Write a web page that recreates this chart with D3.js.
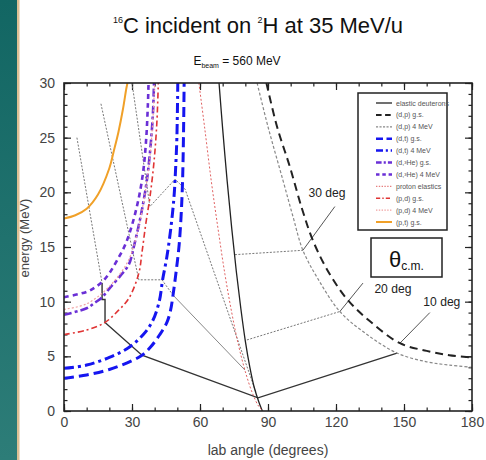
<!DOCTYPE html>
<html><head><meta charset="utf-8">
<script src="https://cdn.jsdelivr.net/npm/d3@7"></script>
<style>body{margin:0;background:#fff}</style></head>
<body><svg id="c" width="486" height="460"></svg>
<script>
// ---------- data ----------
const xTicks = [0,30,60,90,120,150,180];
const yTicks = [0,5,10,15,20,25,30];
const xMinor = d3.range(0,181,10);
const yMinor = d3.range(0,31,1);

const elasticD = [[68.4,30],[70,25.8],[72,21.0],[74,16.7],[76,12.8],[78,9.4],[80,6.4],[82,4.0],[84,2.1],[86,0.8],[87.5,0]];
const dpGs = [[89.3,30],[94,26],[99.7,22.3],[105,18.5],[110,15.5],[117,12.6],[125,10.2],[135,8.2],[148.2,6.2],[160,5.5],[170,5.1],[180,4.9]];
const dp4 = [[85.2,30],[90,26],[96.6,21.1],[101,17.8],[105.4,14.7],[112,12.1],[121.7,9.1],[133,7.1],[146.9,5.3],[160,4.5],[170,4.2],[180,4.0]];
const dtGs = [[0,3.0],[10,3.3],[20,3.8],[30,4.6],[34.4,5.1],[38,5.8],[42.3,7.0],[45.4,8.1],[47,9.2],[48.1,10.6],[49.5,12.8],[50.8,15.2],[51.7,18],[52.3,21],[52.7,25],[53,30]];
const dt4 = [[0,3.9],[10,4.2],[20,4.9],[28.6,5.8],[35,7.0],[39,8.2],[42,10.0],[43.5,12.0],[45.3,14.0],[47,16.5],[48.5,19.5],[49.2,22],[49.8,25],[50.2,30]];
const dHeGs = [[0,8.8],[10,9.4],[13.6,9.9],[16.8,10.4],[20,11.2],[25,12.4],[28.6,13.4],[31,15.2],[34,18],[36.5,21],[38.3,24.5],[39.3,27.5],[39.7,30]];
const dHe4 = [[0,10.4],[10,10.9],[13.6,11.3],[16.8,11.8],[20,12.6],[24,14],[27,15.2],[30,17],[33,19.5],[35,22],[36.3,25],[37,28],[37.3,30]];
const pElastic = [[59.5,30],[62,26],[65,21],[68,16.6],[71,12.5],[74,9],[77,6],[80,3.6],[83,1.7],[86,0.4],[88,0]];
const pdGs = [[0,7.0],[10,7.4],[18.1,8.1],[24,9.2],[28.6,10.3],[33,12.6],[34.4,14.5],[36,17],[38,19.7],[39.8,23],[41,26.5],[41.6,30]];
const pd4 = [[0,9.3],[10,9.8],[20,11.4],[28,13.6],[32,16],[35,19],[37.5,22.5],[39,26],[40,30]];
const pt = [[0,17.6],[5,17.9],[10,18.5],[15,19.8],[20,22.2],[22,23.8],[24,25.5],[26,27.6],[27.5,29.5],[28,30]];

// constant theta_cm connecting lines
const cm10Left = [[16.8,11.7],[16.8,10.2],[18.1,10.2],[18.1,8.1],[34.4,5.1],[85.6,1.2],[146.9,5.3]];
const cm10Upper = [[5.7,25.0],[16.8,11.7]];
const cm20Upper = [[16.3,28.1],[33.0,12.0],[43.2,12.0],[48.1,10.6]];
const cm20Lower = [[48.1,10.6],[79.8,3.75]];
const cm20Right = [[80.7,6.5],[121.7,9.1]];
const cm30Left = [[30.0,30.0],[37.9,18.7],[49.0,21.2],[53.4,20.3],[84.7,1.7]];
const cm30Right = [[75.4,14.3],[105.4,14.7]];
const pointers = [ [[105.4,14.7],[119.5,18.7]], [[121.7,9.1],[131.9,11.7]], [[148.2,6.2],[161.4,9.0]] ];
const angleLabels = ["30 deg","20 deg","10 deg"];
const angleLabelPos = [[116,20.0],[145.1,11.25],[166.7,10.1]];

const legendLabels = ["elastic deuterons","(d,p) g.s.","(d,p) 4 MeV","(d,t) g.s.","(d,t) 4 MeV","(d,\u00B3He) g.s.","(d,\u00B3He) 4 MeV","proton elastics","(p,d) g.s.","(p,d) 4 MeV","(p,t) g.s."];

// ---------- styles ----------
const styles = [
  {c:"#222", w:1.3, d:null},
  {c:"#222", w:2, d:"8,5"},
  {c:"#888", w:1.2, d:"3,2"},
  {c:"#1515f0", w:3, d:"10,5"},
  {c:"#1515f0", w:3, d:"10,4,3,4"},
  {c:"#6a2fd6", w:2.6, d:"8,3,3,3"},
  {c:"#6a2fd6", w:2.6, d:"5,4"},
  {c:"#e06060", w:1, d:"2,2"},
  {c:"#e03434", w:1.6, d:"6,3,2,3"},
  {c:"#f0a0a0", w:1.2, d:"2,2"},
  {c:"#f0a028", w:2, d:null}
];
const series = [elasticD,dpGs,dp4,dtGs,dt4,dHeGs,dHe4,pElastic,pdGs,pd4,pt];

const FONT = "'Liberation Sans',Arial,sans-serif";

const svg = d3.select("#c");
// left decorative strip
const defs = svg.append("defs");
const g1 = defs.append("linearGradient").attr("id","tg").attr("x1",0).attr("y1",0).attr("x2",0).attr("y2",1);
g1.append("stop").attr("offset","0%").attr("stop-color","#126663");
g1.append("stop").attr("offset","100%").attr("stop-color","#2d7d78");
svg.append("rect").attr("x",0).attr("y",0).attr("width",17).attr("height",460).attr("fill","url(#tg)");
svg.append("rect").attr("x",17).attr("y",0).attr("width",2.5).attr("height",460).attr("fill","#dcbf94");

const x = d3.scaleLinear([0,180],[64,472]);
const y = d3.scaleLinear([0,30],[411,83]);

defs.append("clipPath").attr("id","clip").append("rect")
  .attr("x",x(0)).attr("y",y(30)).attr("width",x(180)-x(0)).attr("height",y(0)-y(30));

// title
const t = svg.append("text").attr("x",258).attr("y",33).attr("text-anchor","middle")
  .attr("font-family",FONT).attr("font-size",22).attr("fill","#111");
t.append("tspan").text("16").attr("font-size",9).attr("dy",-10);
t.append("tspan").text("C incident on ").attr("dy",10);
t.append("tspan").text("2").attr("font-size",9).attr("dy",-10);
t.append("tspan").text("H at 35 MeV/u").attr("dy",10);

const st = svg.append("text").attr("x",237).attr("y",65).attr("text-anchor","middle")
  .attr("font-family",FONT).attr("font-size",12).attr("fill","#111");
st.append("tspan").text("E");
st.append("tspan").text("beam").attr("font-size",7).attr("dy",3);
st.append("tspan").text(" = 560 MeV").attr("dy",-3);

// axes
function styleAxis(g){ g.select(".domain").remove(); g.selectAll("line").attr("stroke","#222").attr("stroke-width",1.2);
  g.selectAll("text").attr("font-family",FONT).attr("font-size",14).attr("fill","#444"); }
svg.append("g").attr("transform",`translate(0,${y(0)})`).call(d3.axisBottom(x).tickValues(xTicks).tickSize(-7).tickPadding(6)).call(styleAxis);
svg.append("g").attr("transform",`translate(0,${y(0)})`).call(d3.axisBottom(x).tickValues(xMinor).tickSize(-3.5).tickFormat("")).call(styleAxis);
svg.append("g").attr("transform",`translate(0,${y(30)})`).call(d3.axisTop(x).tickValues(xTicks).tickSize(-7).tickFormat("")).call(styleAxis);
svg.append("g").attr("transform",`translate(0,${y(30)})`).call(d3.axisTop(x).tickValues(xMinor).tickSize(-3.5).tickFormat("")).call(styleAxis);
svg.append("g").attr("transform",`translate(${x(0)},0)`).call(d3.axisLeft(y).tickValues(yTicks).tickSize(-7).tickPadding(9)).call(styleAxis);
svg.append("g").attr("transform",`translate(${x(0)},0)`).call(d3.axisLeft(y).tickValues(yMinor).tickSize(-3.5).tickFormat("")).call(styleAxis);
svg.append("g").attr("transform",`translate(${x(180)},0)`).call(d3.axisRight(y).tickValues(yTicks).tickSize(-7).tickFormat("")).call(styleAxis);
svg.append("g").attr("transform",`translate(${x(180)},0)`).call(d3.axisRight(y).tickValues(yMinor).tickSize(-3.5).tickFormat("")).call(styleAxis);

svg.append("text").attr("x",268).attr("y",455).attr("text-anchor","middle").attr("font-family",FONT)
  .attr("font-size",14).attr("fill","#444").text("lab angle (degrees)");
svg.append("text").attr("transform","translate(29,238) rotate(-90)").attr("text-anchor","middle").attr("font-family",FONT)
  .attr("font-size",13).attr("fill","#444").text("energy (MeV)");

const plot = svg.append("g").attr("clip-path","url(#clip)");
const straight = d3.line().x(d=>x(d[0])).y(d=>y(d[1]));
const smooth = d3.line().x(d=>x(d[0])).y(d=>y(d[1])).curve(d3.curveCatmullRom.alpha(0.5));

// connecting lines (behind)
plot.append("path").attr("d",straight(cm10Upper)).attr("fill","none").attr("stroke","#777").attr("stroke-width",1).attr("stroke-dasharray","2,1.5");
plot.append("path").attr("d",straight(cm20Upper)).attr("fill","none").attr("stroke","#777").attr("stroke-width",1).attr("stroke-dasharray","2,1.5");
plot.append("path").attr("d",straight(cm20Lower)).attr("fill","none").attr("stroke","#888").attr("stroke-width",1);
plot.append("path").attr("d",straight(cm20Right)).attr("fill","none").attr("stroke","#777").attr("stroke-width",1).attr("stroke-dasharray","2,1.5");
plot.append("path").attr("d",straight(cm30Left)).attr("fill","none").attr("stroke","#777").attr("stroke-width",1).attr("stroke-dasharray","2,1.5");
plot.append("path").attr("d",straight(cm30Right)).attr("fill","none").attr("stroke","#777").attr("stroke-width",1).attr("stroke-dasharray","2,1.5");
plot.append("path").attr("d",straight(cm10Left)).attr("fill","none").attr("stroke","#333").attr("stroke-width",1.4);
pointers.forEach(p=>plot.append("path").attr("d",straight(p)).attr("fill","none").attr("stroke","#555").attr("stroke-width",1));

// kinematic curves
series.forEach((s,i)=>{
  const st = styles[i];
  plot.append("path").attr("d",smooth(s)).attr("fill","none").attr("stroke",st.c)
    .attr("stroke-width",st.w).attr("stroke-dasharray",st.d);
});

// angle labels
angleLabels.forEach((l,i)=>{
  svg.append("text").attr("x",x(angleLabelPos[i][0])).attr("y",y(angleLabelPos[i][1])+5)
    .attr("text-anchor","middle").attr("font-family",FONT).attr("font-size",13).attr("fill","#222")
    .attr("textLength",37).attr("lengthAdjust","spacingAndGlyphs").text(l);
});

// frame
svg.append("rect").attr("x",x(0)).attr("y",y(30)).attr("width",x(180)-x(0)).attr("height",y(0)-y(30))
  .attr("fill","none").attr("stroke","#222").attr("stroke-width",1.6);

// legend
const lg = svg.append("g");
lg.append("rect").attr("x",358).attr("y",93).attr("width",89).attr("height",137).attr("fill","#fff").attr("stroke","#222").attr("stroke-width",1.5);
legendLabels.forEach((l,i)=>{
  const yy = 103 + i*11.9;
  const st = styles[i];
  lg.append("line").attr("x1",376).attr("x2",392).attr("y1",yy).attr("y2",yy).attr("stroke",st.c)
    .attr("stroke-width",Math.min(st.w,2.5)).attr("stroke-dasharray",st.d ? st.d.split(",").map(v=>v*0.7).join(",") : null);
  lg.append("text").attr("x",396).attr("y",yy+2.5).attr("font-family",FONT).attr("font-size",7).attr("fill","#555").text(l);
});

// theta c.m. box
svg.append("rect").attr("x",371).attr("y",238).attr("width",71).attr("height",39).attr("fill","#fff").attr("stroke","#222").attr("stroke-width",1.5);
const th = svg.append("text").attr("x",389).attr("y",267).attr("font-family",FONT).attr("font-size",22).attr("fill","#111");
th.append("tspan").text("\u03B8");
th.append("tspan").text("c.m.").attr("font-size",12).attr("dy",3);
</script></body></html>
